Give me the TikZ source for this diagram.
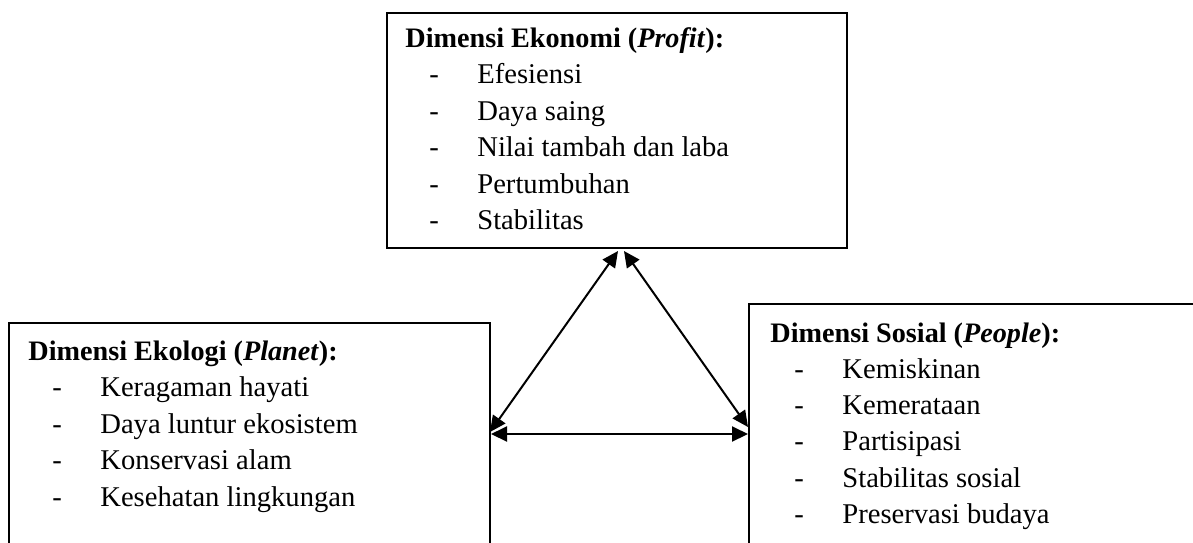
\documentclass[tikz,border=0pt]{standalone}
\usepackage{fontspec}
\setmainfont{Liberation Serif}
\usepackage{tikz}
\usetikzlibrary{arrows.meta}
\usetikzlibrary{calc}
\tikzset{
	dimbox/.style={draw,line width=1pt,inner sep=0pt,anchor=north west},
	judul/.style={anchor=base west,inner sep=0pt,font=\fontsize{14.1}{17}\selectfont\bfseries},
	butir/.style={anchor=base west,inner sep=0pt,font=\fontsize{14.3}{17}\selectfont},
	panah/.style={{Triangle[length=8pt,width=7.5pt]}-{Triangle[length=8pt,width=7.5pt]},line width=1pt}
}
\newcommand{\garis}[1]{\hspace*{12pt}\makebox[24pt][l]{-}#1}

\begin{document}
\begin{tikzpicture}[x=0.5pt,y=-0.5pt]
		\useasboundingbox (0,0) rectangle (1193,542);
		\clip (0,0) rectangle (1193,542);
		
		% ekonomi box
		\node[dimbox,minimum width=230pt,minimum height=117.5pt] (ekonomi) at (386,12) {};
		\node[judul] (ekonomij) at ($(ekonomi.north west)+(19,35)$) {Dimensi Ekonomi (\textit{Profit}):};
		\foreach \t [count=\i] in {Efesiensi,Daya saing,Nilai tambah dan laba,Pertumbuhan,Stabilitas}
			\node[butir] (ekonomi\i) at ($(ekonomij.base west)+(0,36.5*\i)$) {\garis{\t}};
		
		% ekologi box
		\node[dimbox,minimum width=240.5pt,minimum height=130pt] (ekologi) at (8,322) {};
		\node[judul] (ekologij) at ($(ekologi.north west)+(20,38)$) {Dimensi Ekologi (\textit{Planet}):};
		\foreach \t [count=\i] in {Keragaman hayati,Daya luntur ekosistem,Konservasi alam,Kesehatan lingkungan}
			\node[butir] (ekologi\i) at ($(ekologij.base west)+(0,36.5*\i)$) {\garis{\t}};
		
		% sosial box
		\node[dimbox,minimum width=235pt,minimum height=140pt] (sosial) at (748,303) {};
		\node[judul] (sosialj) at ($(sosial.north west)+(22,39)$) {Dimensi Sosial (\textit{People}):};
		\foreach \t [count=\i] in {Kemiskinan,Kemerataan,Partisipasi,Stabilitas sosial,Preservasi budaya}
			\node[butir] (sosial\i) at ($(sosialj.base west)+(0,36.3*\i)$) {\garis{\t}};
		
		% arrow ends
		\coordinate (ekonomiL) at ($(ekonomi.south)+(1,2)$);
		\coordinate (ekonomiR) at ($(ekonomi.south)+(7,2)$);
		\coordinate (ekologiA) at ($(ekologi.north east)+(-1,110)$);
		\coordinate (ekologiB) at ($(ekologi.north east)+(0,112)$);
		\coordinate (sosialA) at ($(sosial.north west)+(0,124)$);
		\coordinate (sosialB) at ($(sosial.north west)+(0,131)$);
		
		\draw[panah] (ekonomiL) -- (ekologiA);
		\draw[panah] (ekonomiR) -- (sosialA);
		\draw[panah] (ekologiB) -- (sosialB);
	\end{tikzpicture}
\end{document}
